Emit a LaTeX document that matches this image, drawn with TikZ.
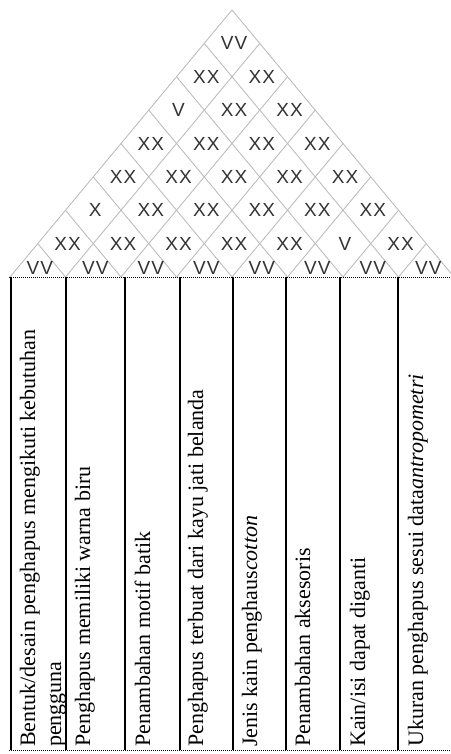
\documentclass[tikz,border=0pt]{standalone}
\usepackage{fontspec}
\setmainfont{Liberation Serif}
\newfontfamily\lblfont[LetterSpace=6]{Liberation Sans}
\definecolor{roofgray}{HTML}{BDBDBD}
\definecolor{lblgray}{HTML}{333333}
\begin{document}
\begin{tikzpicture}[x=1pt,y=-1pt,
  roof/.style={draw=roofgray,line width=0.9pt},
  lbl/.style={inner sep=0pt,text=lblgray,font=\lblfont\fontsize{19}{19}\selectfont},
  colline/.style={draw=black,line width=1.4pt},
  border/.style={draw=black,line width=1pt,dash pattern=on 1pt off 1pt},
  coltext/.style={rotate=90,anchor=base west,inner sep=0pt,text=black,font=\fontsize{22}{22}\selectfont}]
\useasboundingbox (0,0) rectangle (450,754);
\def\w{27.75}
\def\h{33.375}
% roof grid
\foreach \b in {0,...,7}
  \draw[roof] ({10+2*\b*\w},277) -- ({10+(8+\b)*\w},{277-(8-\b)*\h});
\foreach \a in {1,...,8}
  \draw[roof] ({10+\a*\w},{277-\a*\h}) -- ({10+2*\a*\w},277);
% correlation labels
\foreach \k/\row in {7/{VV},6/{XX,XX},5/{V,XX,XX},4/{XX,XX,XX,XX},3/{XX,XX,XX,XX,XX},2/{X,XX,XX,XX,XX,XX},1/{XX,XX,XX,XX,XX,V,XX}}{
  \foreach \t [count=\b from 0] in \row {
    \node[lbl] (m-\k-\b) at ({10+(\k+2*\b+1)*\w+2},{277-\k*\h}) {\t};
  }
}
\foreach \b in {0,...,7}
  \node[lbl] (m-0-\b) at ({10+(2*\b+1)*\w+2},268) {VV};
% table borders
\coordinate (tl) at (9,277);
\coordinate (tr) at (450,277);
\coordinate (bl) at (9,750);
\coordinate (br) at (450,750);
\draw[border] (tl) -- (tr);
\draw[border] (bl) -- (br);
\foreach \x [count=\i] in {11,66,125,180,233,286,340,398}{
  \coordinate (v\i t) at (\x,277);
  \coordinate (v\i b) at (\x,750);
  \draw[colline] (v\i t) -- (v\i b);
}
% column texts
\node[coltext] (t1a) at (35,747) {Bentuk/desain penghapus mengikuti kebutuhan};
\node[coltext] (t1b) at (61,747) {pengguna};
\node[coltext] (t2) at (90,747) {Penghapus memiliki warna biru};
\node[coltext] (t3) at (150,747) {Penambahan motif batik};
\node[coltext] (t4) at (203,747) {Penghapus terbuat dari kayu jati belanda};
\node[coltext] (t5) at (257,747) {Jenis kain penghaus\textit{cotton}};
\node[coltext] (t6) at (310,747) {Penambahan aksesoris};
\node[coltext] (t7) at (365,747) {Kain/isi dapat diganti};
\node[coltext] (t8) at (423,747) {Ukuran penghapus sesui data\textit{antropometri}};
\end{tikzpicture}
\end{document}
